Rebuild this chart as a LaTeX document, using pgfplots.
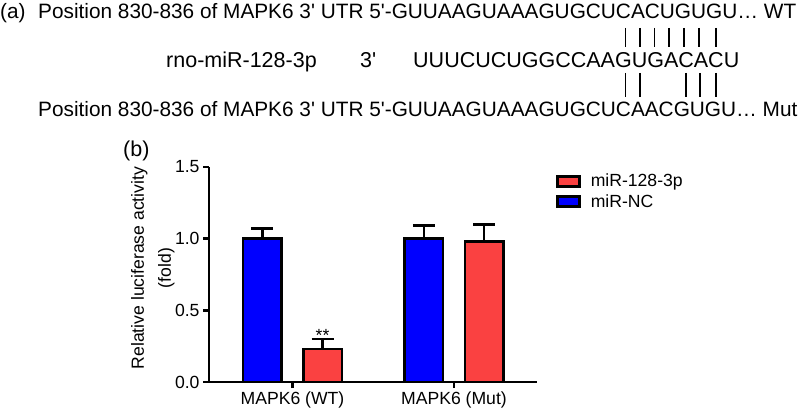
\documentclass[border=0pt]{standalone}
\usepackage{fontspec}
\setmainfont{Liberation Sans}
\usepackage{pgfplots}
\pgfplotsset{compat=1.18}
\definecolor{barred}{RGB}{250,65,65}
\definecolor{barblue}{RGB}{0,0,255}
\begin{document}
\begin{tikzpicture}
\useasboundingbox (0pt,0pt) rectangle (800pt,412pt);
% top sequence panel
\begin{scope}[every node/.style={inner sep=0pt, anchor=base west}]
\node[font=\fontsize{20.8}{25}\selectfont] at (0pt,393.5pt) {(a)};
\node[font=\fontsize{20.8}{25}\selectfont] at (38pt,393.5pt) {Position 830-836 of MAPK6 3\textquotesingle{} UTR 5\textquotesingle-GUUAAGUAAAGUGCUCACUGUGU\ldots{} WT};
\node[font=\fontsize{21.5}{25}\selectfont] at (166pt,344.5pt) {rno-miR-128-3p};
\node[font=\fontsize{21.5}{25}\selectfont] at (360pt,344.5pt) {3\textquotesingle};
\node[font=\fontsize{21.5}{25}\selectfont] at (413pt,344.5pt) {UUUCUCUGGCCAAGUGACACU};
\node[font=\fontsize{20.8}{25}\selectfont] at (38pt,295pt) {Position 830-836 of MAPK6 3\textquotesingle{} UTR 5\textquotesingle-GUUAAGUAAAGUGCUCAACGUGU\ldots{} Mut};
\node[font=\fontsize{21.5}{25}\selectfont] at (123pt,255pt) {(b)};
\end{scope}
\foreach \xx in {625.5,640,654.5,669,684,699,716} {\draw[line width=1.3pt] (\xx pt,384pt) -- (\xx pt,365pt);}
\foreach \xx in {625.5,640,686,700,716} {\draw[line width=1.3pt] (\xx pt,339pt) -- (\xx pt,315pt);}
\begin{axis}[
  at={(209pt,30pt)}, anchor=south west,
  scale only axis, width=328pt, height=215pt,
  xmin=-0.517, xmax=1.514, ymin=0, ymax=1.5,
  axis x line*=bottom, axis y line*=left,
  axis line style={-, line width=2.5pt, black},
  xtick={0,1}, xticklabels={MAPK6 (WT), MAPK6 (Mut)},
  ytick={0,0.5,1,1.5},
  yticklabel style={/pgf/number format/.cd, fixed, fixed zerofill, precision=1},
  /pgf/number format/assume math mode=true,
  tick align=outside, major tick length=6pt,
  tick style={line width=2.5pt, black},
  ticklabel style={font=\fontsize{17.6}{20}\selectfont},
  ylabel={Relative luciferase activity\\(fold)},
  ylabel style={align=center, font=\fontsize{17.6}{27}\selectfont, at={(axis description cs:-0.171,0.53)}, anchor=center},
  clip=false,
  legend style={draw=none, fill=none, at={(axis description cs:1.049,0.986)}, anchor=north west, font=\fontsize{17.6}{20}\selectfont, row sep=2pt},
  legend cell align=left,
  legend image code/.code={\draw[#1, line width=2.5pt] (0pt,-5pt) rectangle (22pt,5pt); \path (30pt,0pt);},
]
\addplot[draw=black, fill=barred, line width=2.5pt, ybar, bar width=0.238, bar shift=0pt,
  error bars/.cd, y dir=plus, y explicit, error bar style={line width=2.5pt, black}, error mark options={line width=2.5pt, black, mark size=11pt, rotate=90}]
  coordinates {(0.186,0.23) +- (0,0.07) (1.186,0.98) +- (0,0.12)};
\addlegendentry{miR-128-3p}
\addplot[draw=black, fill=barblue, line width=2.5pt, ybar, bar width=0.238, bar shift=0pt,
  error bars/.cd, y dir=plus, y explicit, error bar style={line width=2.5pt, black}, error mark options={line width=2.5pt, black, mark size=11pt, rotate=90}]
  coordinates {(-0.186,1.0) +- (0,0.07) (0.814,1.0) +- (0,0.093)};
\addlegendentry{miR-NC}
\node[font=\fontsize{17.6}{20}\selectfont, anchor=south, inner sep=1pt, yshift=-4pt] at (axis cs:0.186,0.30) {**};
\end{axis}
\end{tikzpicture}
\end{document}
